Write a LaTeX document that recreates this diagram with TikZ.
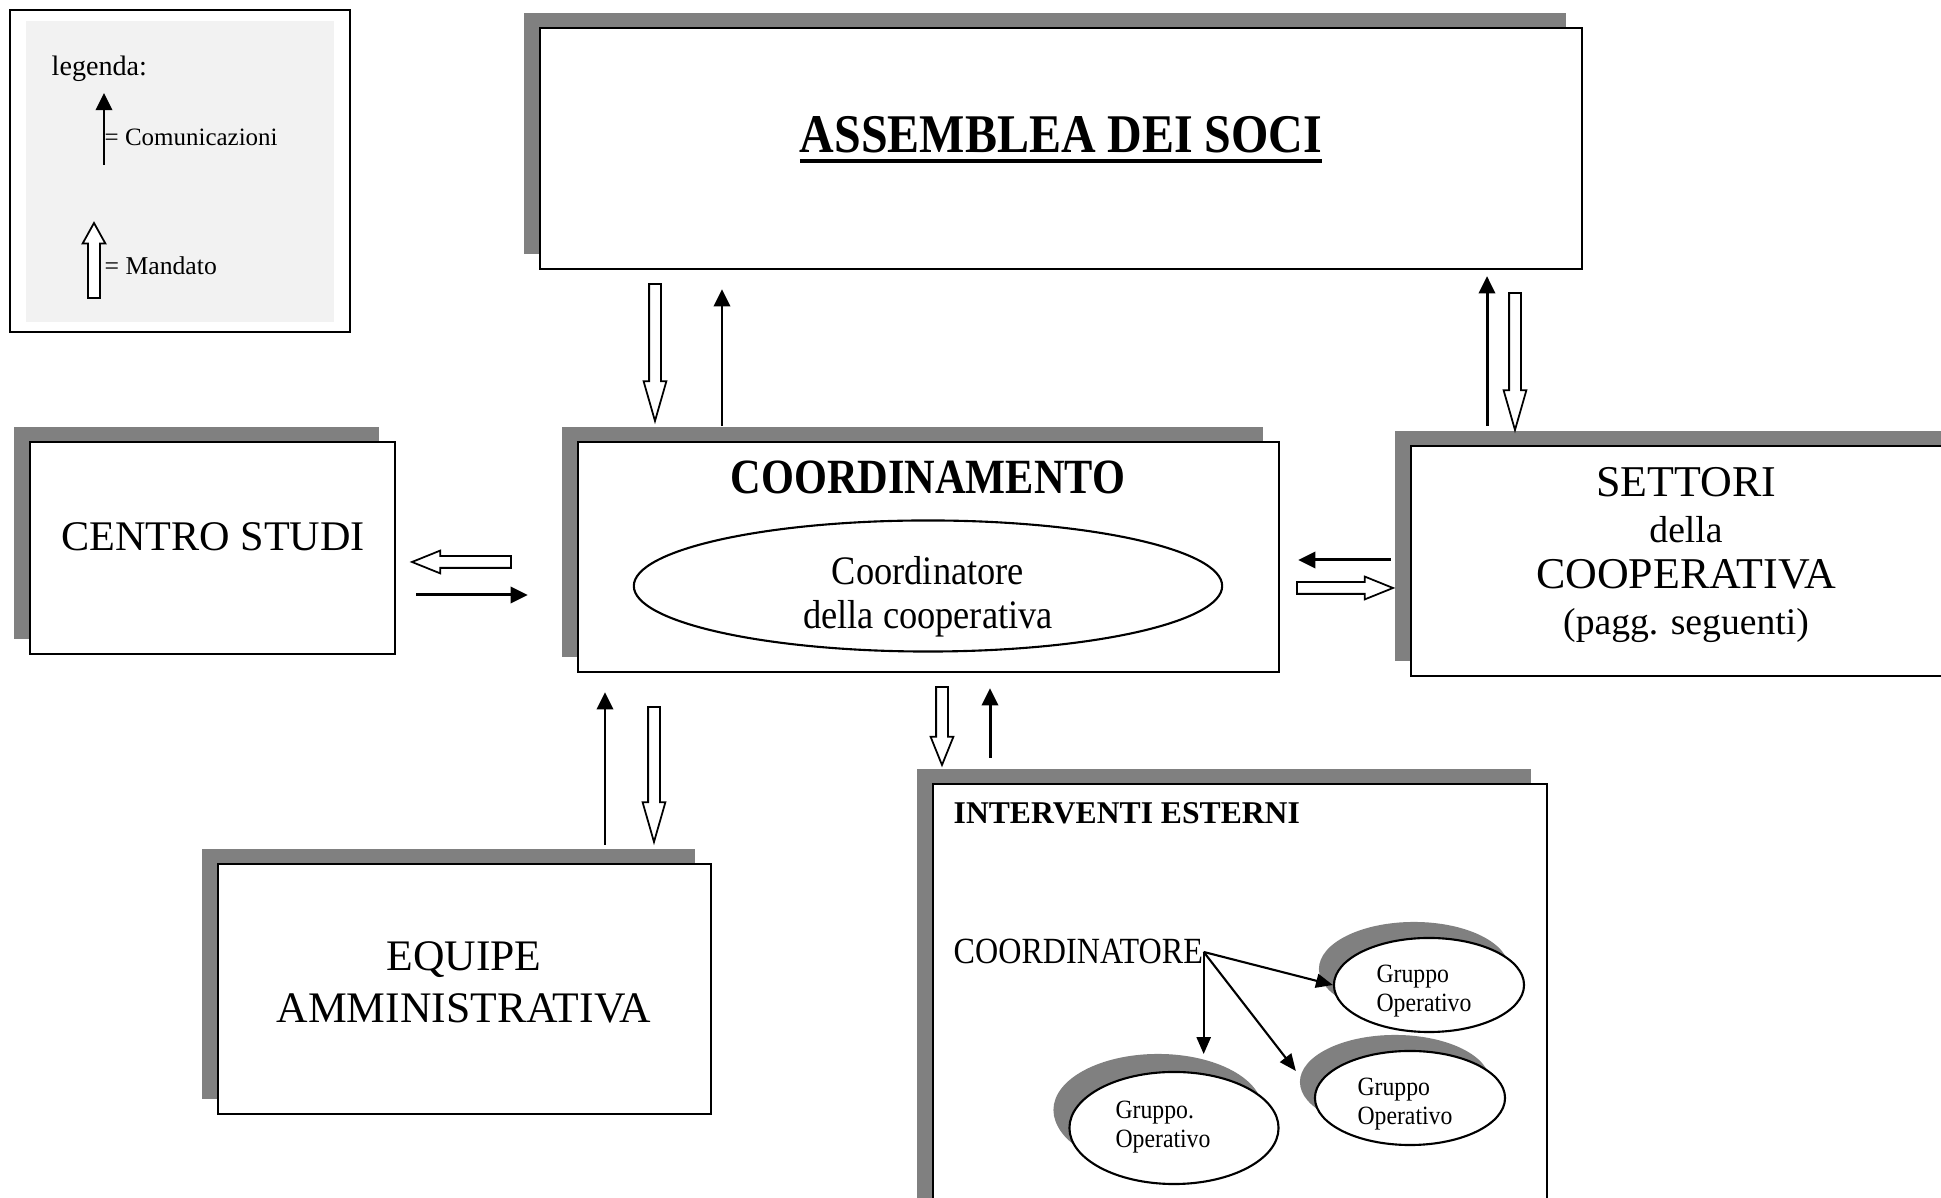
\documentclass[tikz,border=0pt]{standalone}
\usepackage{fontspec}
\setmainfont{Liberation Serif}
\usepackage{graphicx}
\usetikzlibrary{arrows.meta,shapes.geometric,shapes.arrows,positioning,shadows,calc}
\newcommand{\stretto}[2]{\scalebox{#1}[1]{#2}}
\newsavebox{\sottobox}
\newcommand{\sottolinea}[1]{\sbox{\sottobox}{#1}\rlap{\rule[-2.9pt]{\wd\sottobox}{1.3pt}}\usebox{\sottobox}}

\begin{document}
\begin{tikzpicture}[x=0.01cm,y=-0.01cm,
    box/.style={draw,line width=0.6pt,fill=white,inner sep=0pt,
      drop shadow={shadow xshift=-0.16cm,shadow yshift=0.15cm,fill=black!50,opacity=1}},
    gruppo/.style={ellipse,draw,line width=0.6pt,fill=white,inner sep=0pt,
      minimum width=1.9cm,minimum height=0.94cm,
      drop shadow={shadow xshift=-0.15cm,shadow yshift=0.16cm,fill=black!50,opacity=1}},
    gtesto/.style={align=left,inner sep=0pt,font=\fontsize{7.5}{8.1}\selectfont},
    comm/.style={line width=0.85pt,-{Triangle[width=4.6pt,length=4.9pt]}},
    freccina/.style={line width=0.6pt,-{Triangle[width=4pt,length=4.8pt]}},
    mandato/.style={single arrow,draw,fill=white,line width=0.5pt,inner sep=0.05cm,
      single arrow head extend=0.055cm,single arrow tip angle=#1,outer sep=0pt,anchor=tip},
    mandato/.default=32]
  \useasboundingbox (0,0) rectangle (1941,1198);
  \clip (0,0) rectangle (1941,1198);

  % legenda
  \node[draw,line width=0.6pt,minimum width=3.4cm,minimum height=3.22cm] (legenda) at (180,171) {};
  \node[fill=black!5,minimum width=3.08cm,minimum height=3.01cm] (legfondo) at (180,171.5) {};
  \node[anchor=base west,inner sep=0pt,font=\fontsize{8}{9}\selectfont] (legtitolo) at (51,76) {legenda:};
  \coordinate (legcomm) at (104,165);
  \draw[comm] (legcomm) -- ++(0,-72);
  \node[anchor=west,inner sep=0pt,font=\fontsize{7.1}{8}\selectfont] (legc) at (104,137) {= Comunicazioni};
  \node[mandato=58,rotate=90,minimum height=0.75cm] (m7) at (94,223) {};
  \node[anchor=west,inner sep=0pt,font=\fontsize{7.3}{8}\selectfont] (legm) at (104,266) {= Mandato};

  % riquadri
  \node[box,minimum width=10.42cm,minimum height=2.41cm] (assemblea) at (1061,148.5) {};
  \node[anchor=base,font=\fontsize{15.5}{18}\selectfont\bfseries] (assembleatxt) at (1061,153)
    {\stretto{0.88}{\sottolinea{ASSEMBLEA DEI SOCI}}};

  \node[box,minimum width=7.01cm,minimum height=2.3cm] (coord) at (928.5,557) {};
  \node[anchor=base,font=\fontsize{14}{16}\selectfont\bfseries] (coordtxt) at (928,494)
    {\stretto{0.86}{COORDINAMENTO}};
  \node[ellipse,draw,line width=0.6pt,inner sep=0pt,minimum width=5.88cm,minimum height=1.31cm] (coordinatore) at (928,586) {};
  \node[align=center,inner sep=0pt,font=\fontsize{11.5}{12.6}\selectfont] (coordinatoretxt) at (928,597)
    {\stretto{0.9}{Coordinatore}\\\stretto{0.9}{della cooperativa}};

  \node[box,minimum width=3.65cm,minimum height=2.12cm] (centro) at (212.5,548) {};
  \node[anchor=base,font=\fontsize{12}{14}\selectfont] (centrotxt) at (213,551) {CENTRO STUDI};

  \node[box,minimum width=5.5cm,minimum height=2.3cm] (settori) at (1686,561) {};
  \node[align=center,font=\fontsize{12.5}{13}\selectfont] (settoritxt) at (1686,555)
    {SETTORI\\{\fontsize{10.7}{13}\selectfont della}\\COOPERATIVA\\{\fontsize{10.7}{13}\selectfont (pagg. seguenti)}};

  \node[box,minimum width=4.93cm,minimum height=2.5cm] (equipe) at (464.5,989) {};
  \node[align=center,font=\fontsize{12.4}{14.8}\selectfont] (equipetxt) at (464,982)
    {EQUIPE\\AMMINISTRATIVA};

  \node[box,minimum width=6.14cm,minimum height=4.56cm] (interventi) at (1240,1012) {};
  \node[anchor=base west,inner sep=0pt,font=\fontsize{9}{10}\selectfont\bfseries] (intertxt) at (953,824)
    {INTERVENTI ESTERNI};
  \node[anchor=base west,inner sep=0pt,font=\fontsize{10.5}{12}\selectfont] (coordinatore2) at (953,964)
    {\stretto{0.87}{COORDINATORE}};
  \node[gruppo] (g1) at (1429,985) {};
  \node[gtesto] (g1txt) at (1424,991) {\stretto{0.9}{Gruppo}\\\stretto{0.9}{Operativo}};
  \node[gruppo] (g2) at (1410,1098) {};
  \node[gtesto] (g2txt) at (1405,1104) {\stretto{0.9}{Gruppo}\\\stretto{0.9}{Operativo}};
  \node[gruppo,minimum width=2.09cm,minimum height=1.12cm,
    drop shadow={shadow xshift=-0.16cm,shadow yshift=0.18cm,fill=black!50,opacity=1}] (g3) at (1174,1128) {};
  \node[gtesto] (g3txt) at (1163,1127) {\stretto{0.9}{Gruppo.}\\\stretto{0.9}{Operativo}};

  % comunicazioni
  \draw[comm,shorten <=4.3pt,shorten >=5.4pt] (722,0 |- coord.north) -- (722,0 |- assemblea.south);
  \draw[comm,shorten <=5.4pt,shorten >=1.7pt] (1487,0 |- settori.north) -- (1487,0 |- assemblea.south);
  \draw[comm,shorten <=5.7pt,shorten >=13.9pt] (centro.east |- 0,595) -- (coord.west |- 0,595);
  \draw[comm,shorten <=5.4pt,shorten >=5.1pt] (settori.west |- 0,560) -- (coord.east |- 0,560);
  \draw[comm,shorten <=5.1pt,shorten >=5.4pt] (605,0 |- equipe.north) -- (605,0 |- coord.south);
  \draw[comm,shorten <=7.1pt,shorten >=4.3pt] (990,0 |- interventi.north) -- (990,0 |- coord.south);

  % mandati
  \node[mandato,rotate=-90,minimum height=1.37cm] (m1) at (655,421) {};
  \node[mandato,rotate=-90,minimum height=1.37cm] (m2) at (1515,430) {};
  \node[mandato=44,rotate=180,minimum height=0.99cm] (m3) at (412,562) {};
  \node[mandato=44,minimum height=0.96cm] (m4) at (1393,588) {};
  \node[mandato,rotate=-90,minimum height=1.35cm] (m5) at (654,842) {};
  \node[mandato=44,rotate=-90,minimum height=0.78cm] (m6) at (942,765) {};

  % interventi esterni
  \draw[freccina] (coordinatore2.east) -- (g1.west);
  \draw[freccina] (coordinatore2.east) -- ($(g2.west)+(-18,-27)$);
  \draw[freccina,shorten >=4.8pt] (coordinatore2.east) -- (coordinatore2.east |- g3.north);
\end{tikzpicture}
\end{document}
